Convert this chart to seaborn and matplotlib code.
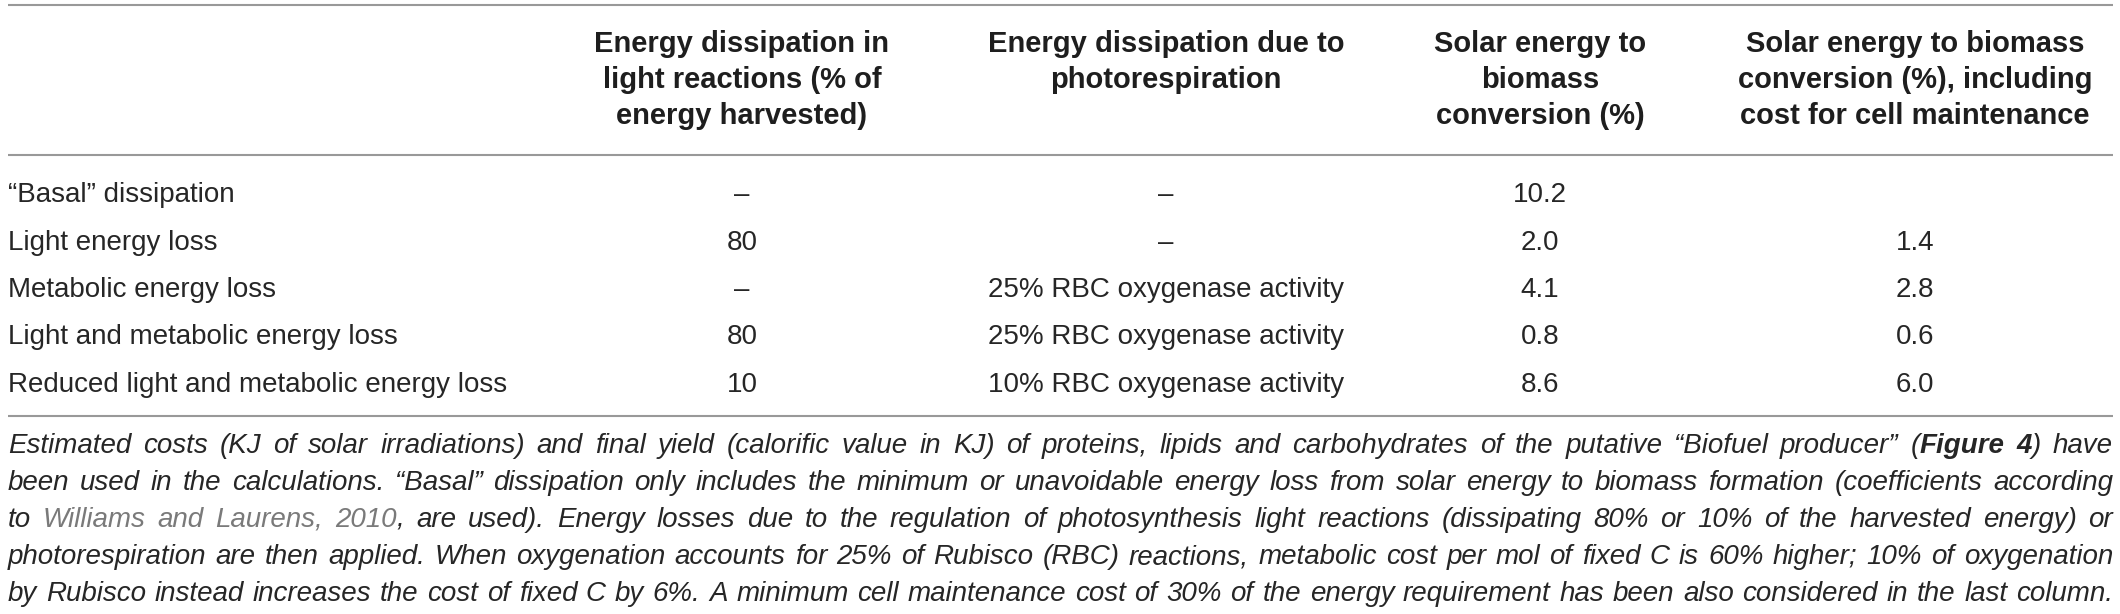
import matplotlib
matplotlib.use("Agg")
import matplotlib.pyplot as plt
import seaborn as sns

# table content
headers = [
    ["Energy dissipation in", "light reactions (% of", "energy harvested)"],
    ["Energy dissipation due to", "photorespiration"],
    ["Solar energy to", "biomass", "conversion (%)"],
    ["Solar energy to biomass", "conversion (%), including", "cost for cell maintenance"],
]
row_labels = [
    "\u201cBasal\u201d dissipation",
    "Light energy loss",
    "Metabolic energy loss",
    "Light and metabolic energy loss",
    "Reduced light and metabolic energy loss",
]
light_dissipation = ["\u2013", "80", "\u2013", "80", "10"]
photorespiration = ["\u2013", "\u2013", "25% RBC oxygenase activity",
                    "25% RBC oxygenase activity", "10% RBC oxygenase activity"]
conversion = [10.2, 2.0, 4.1, 0.8, 8.6]
conversion_maint = [None, 1.4, 2.8, 0.6, 6.0]

# caption, one entry per printed line: (text, style)
caption_lines = [
    [("Estimated costs (KJ of solar irradiations) and final yield (calorific value in KJ) of proteins, "
      "lipids and carbohydrates of the putative \u201cBiofuel producer\u201d (", "n"),
     ("Figure 4", "b"), (") have", "n")],
    [("been used in the calculations. \u201cBasal\u201d dissipation only includes the minimum or unavoidable "
      "energy loss from solar energy to biomass formation (coefficients according", "n")],
    [("to ", "n"), ("Williams and Laurens, 2010", "g"),
     (", are used). Energy losses due to the regulation of photosynthesis light reactions "
      "(dissipating 80% or 10% of the harvested energy) or", "n")],
    [("photorespiration are then applied. When oxygenation accounts for 25% of Rubisco (RBC) reactions, "
      "metabolic cost per mol of fixed C is 60% higher; 10% of oxygenation", "n")],
    [("by Rubisco instead increases the cost of fixed C by 6%. A minimum cell maintenance cost of 30% "
      "of the energy requirement has been also considered in the last column.", "n")],
]

sns.set_theme(style="white")
plt.rcParams["font.family"] = ["Liberation Sans", "DejaVu Sans"]

W, H = 2120, 614
fig = plt.figure(figsize=(W / 100, H / 100), dpi=100)
ax = fig.add_axes([0, 0, 1, 1])
ax.set_xlim(0, W)
ax.set_ylim(H, 0)
ax.axis("off")

x_left, x_right = 8, 2113
col_x = [742, 1166, 1540, 1915]
fs = 20
txt_col = "#262626"
rule_col = "#999999"

for y in [5, 155, 416]:
    ax.plot([x_left, x_right], [y, y], color=rule_col, lw=1.5, solid_capstyle="butt")

# header
head_base = [52, 88, 124]
for cx, lines in zip(col_x, headers):
    for j, s in enumerate(lines):
        ax.text(cx, head_base[j], s, ha="center", va="baseline", fontsize=21,
                fontweight="bold", color="#1e1e1e")

# body rows
row_base = [202, 249.5, 297, 344.5, 392]
for i, lab in enumerate(row_labels):
    yb = row_base[i]
    ax.text(x_left, yb, lab, ha="left", va="baseline", fontsize=fs, color=txt_col)
    ax.text(col_x[0], yb, light_dissipation[i], ha="center", va="baseline", fontsize=fs, color=txt_col)
    ax.text(col_x[1], yb, photorespiration[i], ha="center", va="baseline", fontsize=fs, color=txt_col)
    ax.text(col_x[2], yb, f"{conversion[i]:.1f}", ha="center", va="baseline", fontsize=fs, color=txt_col)
    if conversion_maint[i] is not None:
        ax.text(col_x[3], yb, f"{conversion_maint[i]:.1f}", ha="center", va="baseline",
                fontsize=fs, color=txt_col)

# justified italic caption
fig.canvas.draw()
renderer = fig.canvas.get_renderer()
styles = {
    "n": dict(color=txt_col, fontstyle="italic"),
    "b": dict(color=txt_col, fontstyle="italic", fontweight="bold"),
    "g": dict(color="#7a7a7a", fontstyle="italic"),
}


def split_words(chunks):
    words, cur = [], []
    for s, st in chunks:
        parts = s.split(" ")
        for k, p in enumerate(parts):
            if k > 0:
                if cur:
                    words.append(cur)
                cur = []
            if p:
                cur.append((p, st))
    if cur:
        words.append(cur)
    return words


def measure(word, size):
    w = 0
    for p, st in word:
        t = ax.text(0, 0, p, fontsize=size, **styles[st])
        w += t.get_window_extent(renderer).width
        t.remove()
    return w


cap_words = [split_words(c) for c in caption_lines]
space_w = measure([("a a", "n")], fs) - measure([("aa", "n")], fs)
cap_fs = fs
natural = max(sum(measure(w, fs) for w in ws) + space_w * (len(ws) - 1) for ws in cap_words)
if natural > x_right - x_left:
    cap_fs = fs * (x_right - x_left) / natural * 0.995

cap_base = [453, 490, 527, 564, 601]
for ws, yb in zip(cap_words, cap_base):
    widths = [measure(w, cap_fs) for w in ws]
    gap = (x_right - x_left - sum(widths)) / (len(ws) - 1)
    x = x_left
    for w, wd in zip(ws, widths):
        xx = x
        for p, st in w:
            t = ax.text(xx, yb, p, ha="left", va="baseline", fontsize=cap_fs, **styles[st])
            xx += t.get_window_extent(renderer).width
        x += wd + gap

fig.savefig("out.png", dpi=100, facecolor="white")
